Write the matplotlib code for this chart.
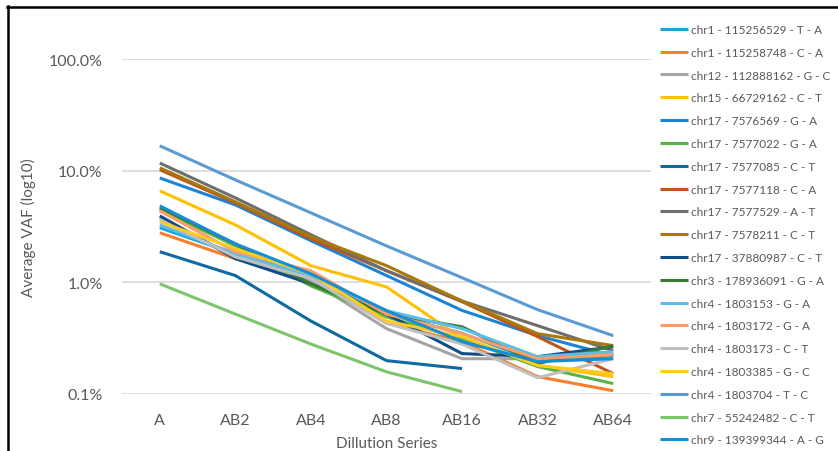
import numpy as np
import matplotlib
matplotlib.use("Agg")
import matplotlib.pyplot as plt
from matplotlib.lines import Line2D

plt.rcParams['font.family'] = ['Lato', 'DejaVu Sans']

# dilution steps on the x axis
dilutions = ['A', 'AB2', 'AB4', 'AB8', 'AB16', 'AB32', 'AB64']

# variant labels (legend order)
variants = [
    'chr1 - 115256529 - T - A',
    'chr1 - 115258748 - C - A',
    'chr12 - 112888162 - G - C',
    'chr15 - 66729162 - C - T',
    'chr17 - 7576569 - G - A',
    'chr17 - 7577022 - G - A',
    'chr17 - 7577085 - C - T',
    'chr17 - 7577118 - C - A',
    'chr17 - 7577529 - A - T',
    'chr17 - 7578211 - C - T',
    'chr17 - 37880987 - C - T',
    'chr3 - 178936091 - G - A',
    'chr4 - 1803153 - G - A',
    'chr4 - 1803172 - G - A',
    'chr4 - 1803173 - C - T',
    'chr4 - 1803385 - G - C',
    'chr4 - 1803704 - T - C',
    'chr7 - 55242482 - C - T',
    'chr9 - 139399344 - A - G',
]

# average VAF in percent, one list per variant (None = not detected)
vaf_chr1_115256529 = [3.08, 1.80, 1.15, 0.52, 0.35, 0.195, 0.22]
vaf_chr1_115258748 = [2.78, 1.63, 1.08, 0.43, 0.294, 0.143, 0.107]
vaf_chr12_112888162 = [3.78, 1.69, 1.03, 0.385, 0.207, 0.207, 0.23]
vaf_chr15_66729162 = [6.6, 3.27, 1.41, 0.91, 0.313, 0.18, 0.143]
vaf_chr17_7576569 = [8.6, 4.94, 2.36, 1.15, 0.56, 0.333, 0.22]
vaf_chr17_7577022 = [4.46, 2.12, 0.93, 0.49, 0.313, 0.176, 0.124]
vaf_chr17_7577085 = [1.88, 1.15, 0.45, 0.199, 0.169, None, None]
vaf_chr17_7577118 = [10.2, 5.15, 2.45, 1.27, 0.67, 0.326, 0.152]
vaf_chr17_7577529 = [11.7, 5.71, 2.67, 1.27, 0.68, 0.409, 0.244]
vaf_chr17_7578211 = [10.6, 5.26, 2.56, 1.41, 0.68, 0.347, 0.271]
vaf_chr17_37880987 = [3.94, 1.63, 0.97, 0.52, 0.23, 0.216, 0.265]
vaf_chr3_178936091 = [4.65, 2.21, 0.97, 0.52, 0.40, 0.187, 0.271]
vaf_chr4_1803153 = [3.27, 1.80, 1.15, 0.557, 0.385, 0.216, 0.239]
vaf_chr4_1803172 = [4.37, 1.88, 1.27, 0.52, 0.347, 0.207, 0.225]
vaf_chr4_1803173 = [3.63, 1.69, 1.08, 0.43, 0.28, 0.14, 0.207]
vaf_chr4_1803385 = [3.48, 2.0, 1.19, 0.45, 0.326, 0.18, 0.152]
vaf_chr4_1803704 = [16.7, 8.27, 4.19, 2.12, 1.10, 0.569, 0.333]
vaf_chr7_55242482 = [0.97, 0.52, 0.28, 0.158, 0.105, None, None]
vaf_chr9_139399344 = [4.84, 2.21, 1.19, 0.557, 0.294, 0.195, 0.207]

series = [
    vaf_chr1_115256529, vaf_chr1_115258748, vaf_chr12_112888162,
    vaf_chr15_66729162, vaf_chr17_7576569, vaf_chr17_7577022,
    vaf_chr17_7577085, vaf_chr17_7577118, vaf_chr17_7577529,
    vaf_chr17_7578211, vaf_chr17_37880987, vaf_chr3_178936091,
    vaf_chr4_1803153, vaf_chr4_1803172, vaf_chr4_1803173,
    vaf_chr4_1803385, vaf_chr4_1803704, vaf_chr7_55242482,
    vaf_chr9_139399344,
]

colors = ['#1AA3DD', '#FA7F2C', '#A5A5A5', '#FFC000', '#1B84D4', '#5CB247',
          '#0E6AA0', '#C2541A', '#6E6E6E', '#A8780C', '#134C84', '#3B7A31',
          '#5DBDEA', '#FF9D68', '#C0C0C0', '#FFCB1F', '#5B9BD5', '#7CC56B',
          '#148FD6']

yticks = [0.1, 1, 10, 100]

fig = plt.figure(figsize=(8.38, 4.52), dpi=100)
ax = fig.add_axes([122 / 838, 1 - 395 / 452, 529 / 838, 335 / 452])

x = np.arange(len(dilutions))
for name, vals, clr in zip(variants, series, colors):
    y = np.array([np.nan if v is None else v for v in vals], dtype=float)
    ax.plot(x, y, color=clr, lw=2.2, label=name, solid_capstyle='butt')

ax.set_yscale('log')
ax.set_ylim(0.1, 100)
ax.set_xlim(-0.5, len(dilutions) - 0.5)
ax.set_yticks(yticks)
ax.set_yticklabels([f'{v:.1f}%' for v in yticks])
ax.minorticks_off()
ax.set_xticks(x)
ax.set_xticklabels(dilutions)
ax.tick_params(length=0, labelsize=11.5, colors='#595959', pad=14)
ax.yaxis.grid(True, color='#D9D9D9', lw=1.2)
ax.set_axisbelow(True)
for s in ax.spines.values():
    s.set_visible(False)

ax.set_ylabel('Average VAF (log10)', fontsize=11, color='#595959', labelpad=9)
ax.set_xlabel('Dillution Series', fontsize=11, color='#595959', labelpad=6)

ax.legend(loc='upper left', bbox_to_anchor=(660 / 838, 1 - 25 / 452),
          bbox_transform=fig.transFigure, frameon=False, fontsize=8.5,
          handlelength=2.4, handletextpad=0.2, labelspacing=1.0,
          labelcolor='#595959', borderaxespad=0, borderpad=0)

# chart frame (top and left edges visible)
fig.add_artist(Line2D([7 / 838, 1], [1 - 8 / 452, 1 - 8 / 452], color='black', lw=1.8))
fig.add_artist(Line2D([8 / 838, 8 / 838], [0, 1 - 7 / 452], color='black', lw=1.8))

fig.savefig('out.png', dpi=100)
